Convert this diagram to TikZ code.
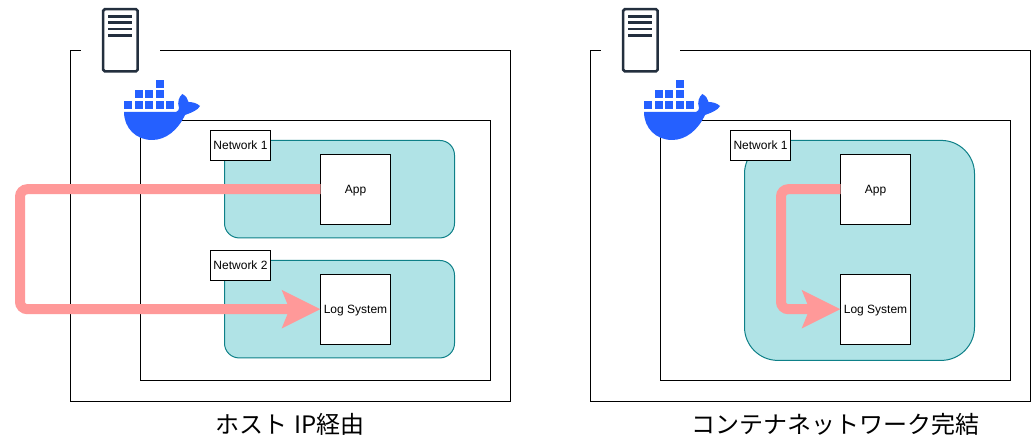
\documentclass[tikz,border=0pt]{standalone}
\usepackage{fontspec}
\setmainfont{Liberation Sans}
\newfontfamily\cjkfont{Noto Sans CJK JP}
\usetikzlibrary{arrows.meta}
\definecolor{tealfill}{HTML}{B0E3E6}
\definecolor{tealline}{HTML}{0E8088}
\definecolor{flow}{HTML}{FF9999}
\definecolor{servercol}{HTML}{232F3E}
\definecolor{dockerblue}{HTML}{2560FF}
\tikzset{
  x=0.75pt,y=-0.75pt,
  group/.style={draw=black,line width=0.75pt,fill=white,inner sep=0pt,outer sep=0pt},
  net/.style={draw=tealline,fill=tealfill,line width=0.75pt,inner sep=0pt,outer sep=0pt,minimum width=172.5pt},
  tag/.style={draw=black,fill=white,line width=0.75pt,inner sep=0pt,outer sep=0pt,minimum width=45pt,minimum height=22.5pt,font=\fontsize{9}{10}\selectfont},
  svc/.style={draw=black,fill=white,line width=0.75pt,inner sep=0pt,outer sep=0pt,minimum width=52.5pt,minimum height=52.5pt,text height=7pt,text depth=1pt,font=\fontsize{9}{10}\selectfont},
  flowline/.style={draw=flow,line width=7.5pt,rounded corners=5.5pt,-{Stealth[length=28.5pt 0 0,width=27.75pt 0 0,inset=5.25pt 0 0]}},
  caption/.style={font=\cjkfont\fontsize{18}{20}\selectfont,inner sep=0pt},
}
\newcommand{\servericon}{%
  \draw[servercol,line width=1.9pt,fill=white,rounded corners=1.2pt] (103.2,9.2) rectangle (137.6,71.3);
  \foreach \yy in {16.3,22.7,29,35.3}
    \draw[servercol,line width=1.9pt] (108,\yy) -- (132,\yy);
}
\newcommand{\dockericon}{%
  \fill[dockerblue] (124,112) -- (176,112)
     .. controls (178,111) and (179,110) .. (179,108)
     .. controls (177,102) and (179,97) .. (182.3,94)
     .. controls (186,96) and (188,99) .. (188.5,102)
     .. controls (192,102) and (197,103) .. (200,106)
     .. controls (198,110) and (192,112.5) .. (185,115)
     .. controls (178,130) and (166,140) .. (152,140)
     .. controls (136,140) and (124,128) .. (124,112) -- cycle;
  \foreach \bx/\by in {124/100.7,134.7/100.7,145.2/100.7,155.7/100.7,166.3/100.7,
                       134.7/90.3,145.2/90.3,155.7/90.3,155.7/80}
    \fill[dockerblue] (\bx,\by) rectangle ++(8,8);
}
\begin{document}
\begin{tikzpicture}
\useasboundingbox (0,0) rectangle (1031,441);
% left panel
\node[group,minimum width=330pt,minimum height=263.25pt] (outerA) at (290.5,226) {};
\fill[white] (81,48) rectangle (160,53);
\servericon
\node[group,minimum width=262.5pt,minimum height=195pt] (innerA) at (315.5,250.5) {};
\dockericon
\node[net,minimum height=73.1pt,rounded corners=11pt] (netA1) at (339.5,189.2) {};
\node[net,minimum height=73.1pt,rounded corners=11pt] (netA2) at (339.5,309.2) {};
\node[tag] (tagA1) at (240.5,145.5) {Network 1};
\node[tag] (tagA2) at (240.5,265.5) {Network 2};
\node[svc] (appA) at (355.5,189.2) {App};
\node[svc] (logA) at (355.5,309.2) {Log System};
\coordinate (a1) at (20,189.2);
\coordinate (a2) at (20,309.2);
\draw[flowline] (appA.west) -- (a1) -- (a2) -- (logA.west);
\node[caption] (capA) at (290,424) {ホスト\hspace{1.5pt} IP経由};
% right panel
\node[group,minimum width=330pt,minimum height=263.25pt] (outerB) at (810.5,226) {};
\fill[white] (601,48) rectangle (680,53);
\begin{scope}[shift={(520,0)}]
\servericon
\end{scope}
\node[group,minimum width=262.5pt,minimum height=195pt] (innerB) at (835.5,250.5) {};
\begin{scope}[shift={(520,0)}]
\dockericon
\end{scope}
\node[net,minimum height=165pt,rounded corners=25pt] (netB) at (859.5,250.4) {};
\node[tag] (tagB) at (760.5,145.5) {Network 1};
\node[svc] (appB) at (875.5,189.2) {App};
\node[svc] (logB) at (875.5,309.2) {Log System};
\coordinate (b1) at (781,189.2);
\coordinate (b2) at (781,309.2);
\draw[flowline] (appB.west) -- (b1) -- (b2) -- (logB.west);
\node[caption] (capB) at (835,424) {コンテナネットワーク完結};
\end{tikzpicture}
\end{document}
